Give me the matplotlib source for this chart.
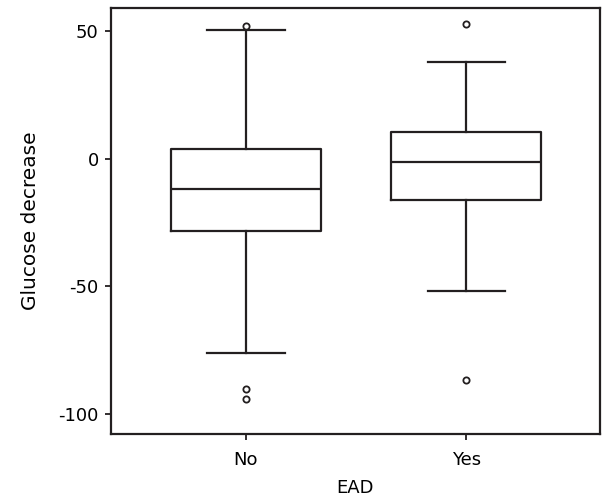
import matplotlib
matplotlib.use('Agg')
import matplotlib.pyplot as plt

plt.rcParams['font.family'] = ['DejaVu Sans']
plt.rcParams['font.size'] = 13

# values
groups = ['No', 'Yes']
q1 = [-28.2, -16.3]
medians = [-11.9, -1.4]
q3 = [3.7, 10.5]
whislo = [-76.2, -51.9]
whishi = [50.5, 37.9]
fliers = [[52.1, -90.3, -93.9], [52.9, -86.7]]

stats = []
for i in range(len(groups)):
    stats.append({
        'label': groups[i],
        'q1': q1[i], 'med': medians[i], 'q3': q3[i],
        'whislo': whislo[i], 'whishi': whishi[i],
        'fliers': fliers[i],
    })

fig = plt.figure(figsize=(6.05, 5.0), dpi=100)
ax = fig.add_axes([0.1835, 0.132, 0.808, 0.852])

col = '#231f20'
lw = 1.6
ax.bxp(stats, positions=[1, 2], widths=0.68, showcaps=True,
       boxprops=dict(color=col, linewidth=lw),
       medianprops=dict(color=col, linewidth=lw),
       whiskerprops=dict(color=col, linewidth=lw),
       capprops=dict(color=col, linewidth=lw),
       capwidths=0.35,
       flierprops=dict(marker='o', markersize=4.5, markerfacecolor='white',
                       markeredgecolor=col, markeredgewidth=1.3))

ax.set_xlim(0.388, 2.605)
ax.set_ylim(-107.8, 59.0)
ax.set_yticks([50, 0, -50, -100])
ax.set_yticklabels(['50', '0', '-50', '-100'])

for s in ax.spines.values():
    s.set_linewidth(1.6)
    s.set_color(col)
ax.tick_params(direction='out', length=4.3, width=1.3, color=col, labelsize=13)
ax.tick_params(axis='y', pad=4.5)
ax.tick_params(axis='x', pad=8)

ax.set_xlabel('EAD', fontsize=13, labelpad=7)
ax.set_ylabel('Glucose decrease', fontsize=14.5, labelpad=13.5)

fig.savefig('out.png', dpi=100)
